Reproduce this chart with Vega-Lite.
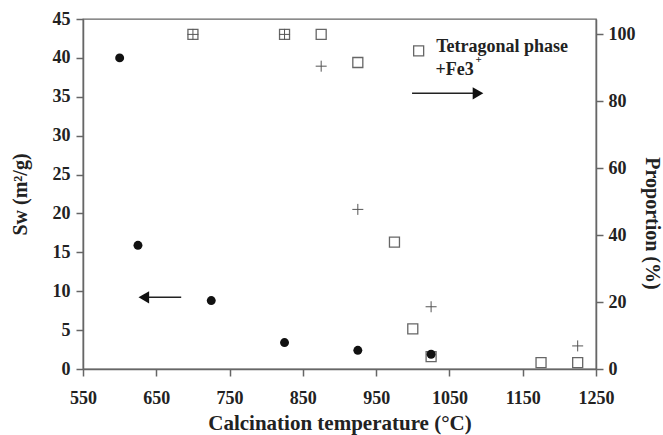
{
  "$schema": "https://vega.github.io/schema/vega-lite/v6.json",
  "width": 513,
  "height": 350,
  "autosize": {"type": "none"},
  "padding": {"left": 83, "top": 19, "right": 67, "bottom": 66},
  "background": "white",
  "config": {
    "view": {"stroke": "#666", "strokeWidth": 1.3},
    "axis": {
      "grid": false,
      "domainColor": "#666",
      "domainWidth": 1.5,
      "tickColor": "#666",
      "tickWidth": 1.5,
      "tickSize": 7,
      "labelFont": "Liberation Serif",
      "labelFontWeight": "bold",
      "labelFontSize": 18,
      "labelColor": "#222",
      "labelOverlap": false,
      "labelFlush": false,
      "titleFont": "Liberation Serif",
      "titleFontWeight": "bold",
      "titleFontSize": 20,
      "titleColor": "#222"
    }
  },
  "datasets": {
    "sw": [
      {"t": 600, "v": 40},
      {"t": 625, "v": 15.9},
      {"t": 725, "v": 8.8},
      {"t": 825, "v": 3.4},
      {"t": 925, "v": 2.4},
      {"t": 1025, "v": 1.9}
    ],
    "tet": [
      {"t": 700, "v": 100},
      {"t": 825, "v": 100},
      {"t": 875, "v": 100},
      {"t": 925, "v": 91.6},
      {"t": 975, "v": 37.9},
      {"t": 1000, "v": 12.0},
      {"t": 1025, "v": 3.7},
      {"t": 1175, "v": 1.9},
      {"t": 1225, "v": 1.9}
    ],
    "fe": [
      {"t": 700, "v": 100},
      {"t": 825, "v": 100},
      {"t": 875, "v": 90.5},
      {"t": 925, "v": 47.7},
      {"t": 1025, "v": 18.6},
      {"t": 1225, "v": 6.9}
    ],
    "legsq": [{"t": 1008, "v": 40.9}],
    "legtxt": [
      {"t": 1032, "v": 41.4, "label": "Tetragonal phase"},
      {"t": 1031, "v": 38.4, "label": "+Fe3"}
    ],
    "sup": [{"t": 1090, "v": 39.7, "label": "+"}],
    "arrows": [
      {"id": "right", "t": 999, "v": 35.45},
      {"id": "right", "t": 1085, "v": 35.45},
      {"id": "left", "t": 640, "v": 9.22},
      {"id": "left", "t": 684, "v": 9.22}
    ],
    "headR": [{"t": 1089, "v": 35.45}],
    "headL": [{"t": 633, "v": 9.22}]
  },
  "encoding": {
    "x": {
      "field": "t",
      "type": "quantitative",
      "scale": {"domain": [550, 1250], "nice": false},
      "axis": {
        "values": [550, 650, 750, 850, 950, 1050, 1150, 1250],
        "format": "d",
        "title": "Calcination temperature (°C)",
        "titleFontSize": 21,
        "labelPadding": 13,
        "titlePadding": 5
      }
    }
  },
  "layer": [
    {
      "encoding": {
        "y": {
          "field": "v",
          "type": "quantitative",
          "scale": {"domain": [0, 104.6], "nice": false},
          "axis": {
            "orient": "right",
            "values": [0, 20, 40, 60, 80, 100],
            "title": "Proportion (%)",
            "titleAngle": 90,
            "titleY": 204,
            "titleFontSize": 20,
            "labelPadding": 5,
            "titlePadding": 6
          }
        }
      },
      "layer": [
        {
          "data": {"name": "tet"},
          "mark": {"type": "point", "shape": "square", "filled": false, "stroke": "#666", "strokeWidth": 1.3, "size": 100, "opacity": 1}
        },
        {
          "data": {"name": "fe"},
          "mark": {"type": "point", "shape": "M-1,0L1,0M0,-1L0,1", "filled": false, "stroke": "#555", "strokeWidth": 1, "size": 121, "opacity": 1}
        }
      ]
    },
    {
      "encoding": {
        "y": {
          "field": "v",
          "type": "quantitative",
          "scale": {"domain": [0, 45], "nice": false},
          "axis": {
            "orient": "left",
            "values": [0, 5, 10, 15, 20, 25, 30, 35, 40, 45],
            "title": "Sw (m²/g)",
            "labelPadding": 6,
            "titlePadding": 22
          }
        }
      },
      "layer": [
        {
          "data": {"name": "sw"},
          "mark": {"type": "circle", "color": "#111", "size": 80, "opacity": 1}
        },
        {
          "data": {"name": "legsq"},
          "mark": {"type": "point", "shape": "square", "filled": false, "stroke": "#666", "strokeWidth": 1.3, "size": 100, "opacity": 1}
        },
        {
          "data": {"name": "legtxt"},
          "mark": {"type": "text", "align": "left", "baseline": "middle", "font": "Liberation Serif", "fontWeight": "bold", "fontSize": 18, "color": "#222"},
          "encoding": {"text": {"field": "label"}}
        },
        {
          "data": {"name": "sup"},
          "mark": {"type": "text", "align": "center", "baseline": "middle", "font": "Liberation Serif", "fontWeight": "bold", "fontSize": 11, "color": "#222"},
          "encoding": {"text": {"field": "label"}}
        },
        {
          "data": {"name": "arrows"},
          "mark": {"type": "line", "color": "#222", "strokeWidth": 1.5},
          "encoding": {"detail": {"field": "id"}}
        },
        {
          "data": {"name": "headR"},
          "mark": {"type": "point", "shape": "triangle-right", "filled": true, "color": "#111", "size": 150, "opacity": 1}
        },
        {
          "data": {"name": "headL"},
          "mark": {"type": "point", "shape": "triangle-left", "filled": true, "color": "#111", "size": 150, "opacity": 1}
        }
      ]
    }
  ],
  "resolve": {"scale": {"y": "independent"}}
}
